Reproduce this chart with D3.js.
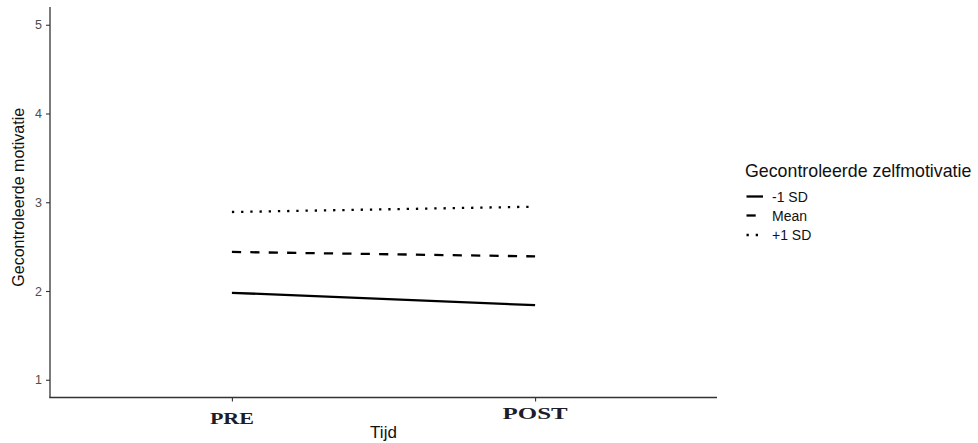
<!DOCTYPE html>
<html>
<head>
<meta charset="utf-8">
<script src="https://cdn.jsdelivr.net/npm/d3@7"></script>
<style>
  html, body { margin: 0; padding: 0; background: #fff; }
  svg { display: block; }
</style>
</head>
<body>
<script>
// Time points and the three simple-slope groups
const timepoints = ["PRE", "POST"];
const groups = ["-1 SD", "Mean", "+1 SD"];
const minus1SD = [1.98, 1.84];
const meanValues = [2.44, 2.39];
const plus1SD = [2.89, 2.95];
const yTicks = [1, 2, 3, 4, 5];

const seriesValues = [minus1SD, meanValues, plus1SD];
const lw = 2.3;
const dashes = [null, `${4 * lw},${4 * lw}`, `${1 * lw},${3 * lw}`];

const W = 978, H = 443;
const panel = { left: 50, right: 717, top: 7, bottom: 397.5 };
const sans = "Liberation Sans, Arial, sans-serif";

const svg = d3.select("body").append("svg")
  .attr("width", W).attr("height", H);

// Discrete x positioned like a point scale with 0.6 expansion on each side
const xIdx = d3.scaleLinear().domain([0.4, 2.6]).range([panel.left, panel.right]);
const x = name => xIdx(timepoints.indexOf(name) + 1);
const y = d3.scaleLinear().domain([0.8, 5.2]).range([panel.bottom, panel.top]);

// y axis
const yAxis = d3.axisLeft(y).tickValues(yTicks).tickSize(4).tickPadding(4).tickFormat(d3.format("d"));
const gy = svg.append("g").attr("transform", `translate(${panel.left},0)`).call(yAxis);
gy.select(".domain").remove();
gy.selectAll(".tick line").attr("stroke", "#333").attr("stroke-width", 1.1);
gy.selectAll(".tick text").attr("fill", "#4d4d4d")
  .style("font-family", sans).style("font-size", "12.5px");

// x axis
const xScaleBand = d3.scalePoint().domain(timepoints).range([x("PRE"), x("POST")]);
const xAxis = d3.axisBottom(xScaleBand).tickSize(4).tickFormat("");
const gx = svg.append("g").attr("transform", `translate(0,${panel.bottom})`).call(xAxis);
gx.select(".domain").remove();
gx.selectAll(".tick line").attr("stroke", "#333").attr("stroke-width", 1.1);

// axis lines
svg.append("line").attr("x1", panel.left).attr("x2", panel.left)
  .attr("y1", panel.top).attr("y2", panel.bottom + 0.6)
  .attr("stroke", "#333").attr("stroke-width", 1.3);
svg.append("line").attr("x1", panel.left - 0.6).attr("x2", panel.right)
  .attr("y1", panel.bottom).attr("y2", panel.bottom)
  .attr("stroke", "#333").attr("stroke-width", 1.3);

// category labels (serif, stretched)
const catStyle = [
  { name: "PRE", base: 424, len: 44 },
  { name: "POST", base: 418.5, len: 65 }
];
catStyle.forEach(c => {
  svg.append("text")
    .attr("x", x(c.name) - c.len / 2).attr("y", c.base)
    .attr("textLength", c.len).attr("lengthAdjust", "spacingAndGlyphs")
    .attr("fill", "#1c1c2a")
    .style("font-family", "Liberation Serif, Times New Roman, serif")
    .style("font-weight", "bold").style("font-size", "17px")
    .text(c.name);
});

// axis titles
svg.append("text").attr("x", (panel.left + panel.right) / 2).attr("y", 437.5)
  .attr("text-anchor", "middle").attr("fill", "#111")
  .style("font-family", sans).style("font-size", "17px")
  .text("Tijd");
svg.append("text")
  .attr("transform", `translate(24,${(panel.top + panel.bottom) / 2 - 5}) rotate(-90)`)
  .attr("text-anchor", "middle").attr("fill", "#111")
  .style("font-family", sans).style("font-size", "16px")
  .text("Gecontroleerde motivatie");

// lines
const line = d3.line().x(d => x(d.t)).y(d => y(d.v));
seriesValues.forEach((vals, i) => {
  const pts = timepoints.map((t, j) => ({ t, v: vals[j] }));
  svg.append("path").datum(pts).attr("d", line)
    .attr("fill", "none").attr("stroke", "#000").attr("stroke-width", lw)
    .attr("stroke-dasharray", dashes[i]);
});

// legend
const lg = svg.append("g");
lg.append("text").attr("x", 745).attr("y", 177).attr("fill", "#111")
  .style("font-family", sans).style("font-size", "17.8px")
  .text("Gecontroleerde zelfmotivatie");
const keyY = [196.5, 215.5, 235];
groups.forEach((g, i) => {
  lg.append("line").attr("x1", 746.5).attr("x2", 763)
    .attr("y1", keyY[i]).attr("y2", keyY[i])
    .attr("stroke", "#000").attr("stroke-width", lw)
    .attr("stroke-dasharray", dashes[i]);
  lg.append("text").attr("x", 772).attr("y", keyY[i] + 5).attr("fill", "#111")
    .style("font-family", sans).style("font-size", "14px")
    .text(g);
});
</script>
</body>
</html>
